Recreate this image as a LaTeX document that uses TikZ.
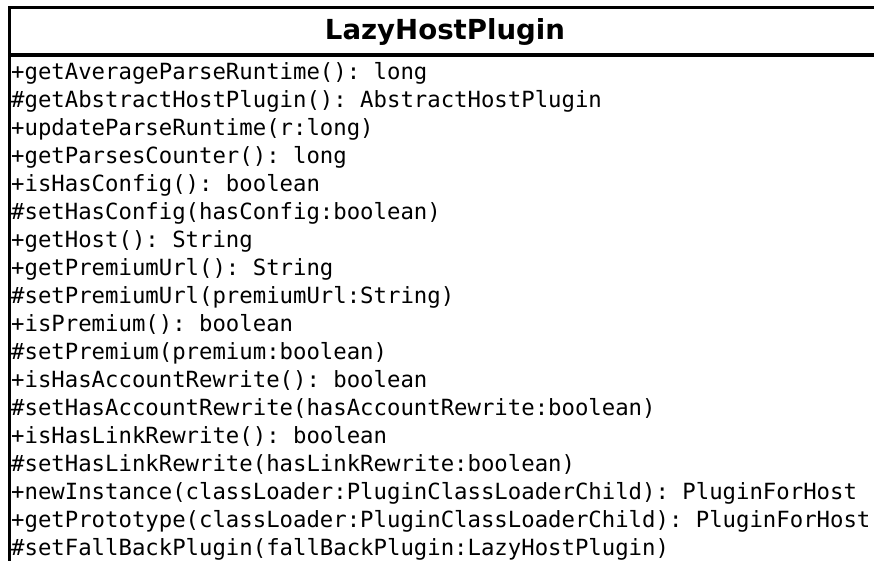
\documentclass[tikz,border=0pt]{standalone}
\usepackage{fontspec}
\setmainfont{DejaVu Sans}
\setmonofont{DejaVu Sans Mono}
\begin{document}
\begin{tikzpicture}[x=1pt,y=-1pt,
  member/.style={anchor=base west, inner sep=0pt,
    font=\ttfamily\fontsize{22.3}{28}\selectfont},
  classname/.style={anchor=base, inner sep=0pt,
    font=\bfseries\fontsize{27.6}{33}\selectfont},
  frame/.style={line width=3pt, line cap=butt}]
\useasboundingbox (0,0) rectangle (874,561);
\fill[white] (0,0) rectangle (874,561);
\begin{scope}
\clip (0,0) rectangle (874,561);
% class box: outline and compartment separator run past the page edge
\draw[frame] (9.5,600) -- (9.5,7.5) -- (900,7.5);
\draw[frame, line width=3.5pt] (9.5,55) -- (900,55);
\end{scope}
\node[classname] (name) at (445,40) {LazyHostPlugin};
\foreach \t [count=\i] in {
  +getAverageParseRuntime(): long,
  \#getAbstractHostPlugin(): AbstractHostPlugin,
  +updateParseRuntime(r:long),
  +getParsesCounter(): long,
  +isHasConfig(): boolean,
  \#setHasConfig(hasConfig:boolean),
  +getHost(): String,
  +getPremiumUrl(): String,
  \#setPremiumUrl(premiumUrl:String),
  +isPremium(): boolean,
  \#setPremium(premium:boolean),
  +isHasAccountRewrite(): boolean,
  \#setHasAccountRewrite(hasAccountRewrite:boolean),
  +isHasLinkRewrite(): boolean,
  \#setHasLinkRewrite(hasLinkRewrite:boolean),
  +newInstance(classLoader:PluginClassLoaderChild): PluginForHost,
  +getPrototype(classLoader:PluginClassLoaderChild): PluginForHost,
  \#setFallBackPlugin(fallBackPlugin:LazyHostPlugin)}
  \node[member] (m\i) at (11,{79.5+(\i-1)*28}) {\t};
\end{tikzpicture}
\end{document}
